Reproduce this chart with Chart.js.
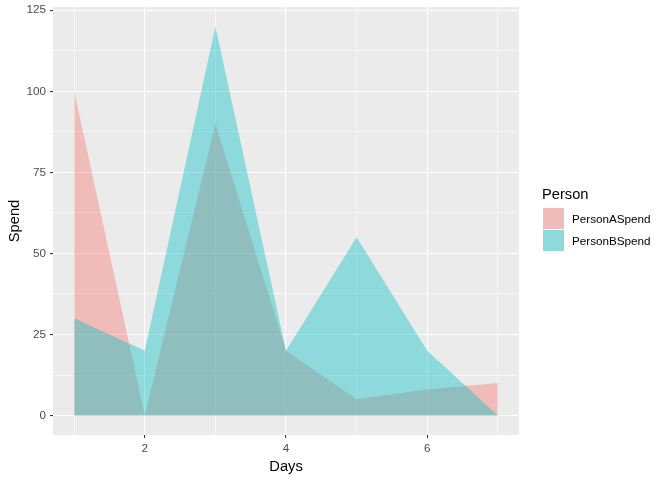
<!DOCTYPE html>
<html>
<head>
<meta charset="utf-8">
<script src="https://cdn.jsdelivr.net/npm/chart.js@4"></script>
<style>
  body { margin: 0; background: #fff; }
  #wrap { position: relative; width: 672px; height: 480px; }
  #legend { position: absolute; left: 542px; top: 186px; font-family: "Liberation Sans", Arial, sans-serif; }
  #legend .title { font-size: 14.7px; color: #000; margin-bottom: 5px; }
  #legend .row { display: flex; align-items: center; height: 22.5px; }
  #legend .key { width: 21px; height: 21px; border: 1px solid #fff; background: #ebebeb; position: relative; }
  #legend .key span { position: absolute; inset: 0; }
  #legend .lbl { font-size: 11.7px; color: #000; margin-left: 7px; }
</style>
</head>
<body>
<div id="wrap">
  <canvas id="spendChart" width="672" height="480"></canvas>
  <div id="legend">
    <div class="title">Person</div>
    <div class="row"><div class="key"><span style="background: rgba(248,118,109,0.4)"></span></div><div class="lbl">PersonASpend</div></div>
    <div class="row"><div class="key"><span style="background: rgba(0,191,196,0.4)"></span></div><div class="lbl">PersonBSpend</div></div>
  </div>
</div>
<script>
// valores
const days = [1, 2, 3, 4, 5, 6, 7];
const personASpend = [100, 0, 90, 20, 5, 8, 10];
const personBSpend = [30, 20, 120, 20, 55, 20, 0];
const xTicks = [1, 2, 3, 4, 5, 6, 7];
const xLabelled = [2, 4, 6];
const yTicks = [0, 12.5, 25, 37.5, 50, 62.5, 75, 87.5, 100, 112.5, 125];
const yLabelled = [0, 25, 50, 75, 100, 125];

const font = "'Liberation Sans', Arial, sans-serif";

const panelBg = {
    id: 'panelBg',
    beforeDraw(chart) {
        const { ctx, chartArea: a } = chart;
        ctx.save();
        ctx.fillStyle = '#EBEBEB';
        ctx.fillRect(a.left, a.top, a.right - a.left, a.bottom - a.top);
        ctx.restore();
    }
};

function toPoints(vals) {
    return days.map((d, i) => ({ x: d, y: vals[i] }));
}

const ctx = document.getElementById('spendChart').getContext('2d');

const spendChart = new Chart(ctx, {
    type: 'line',
    data: {
        datasets: [
            {
                label: 'PersonASpend',
                data: toPoints(personASpend),
                backgroundColor: 'rgba(248,118,109,0.4)',
                borderWidth: 0,
                pointRadius: 0,
                fill: 'origin',
                order: 2
            },
            {
                label: 'PersonBSpend',
                data: toPoints(personBSpend),
                backgroundColor: 'rgba(0,191,196,0.4)',
                borderWidth: 0,
                pointRadius: 0,
                fill: 'origin',
                order: 1
            }
        ]
    },
    options: {
        responsive: false,
        animation: false,
        layout: { padding: { top: 7, right: 153, left: 0, bottom: 0 } },
        plugins: {
            legend: { display: false },
            tooltip: { enabled: false }
        },
        scales: {
            x: {
                type: 'linear',
                min: 0.7,
                max: 7.3,
                afterBuildTicks: s => { s.ticks = xTicks.map(v => ({ value: v })); },
                afterFit: s => { s.height = 45; s.paddingLeft = 0; s.paddingRight = 0; },
                border: { display: false },
                grid: {
                    color: '#FFFFFF',
                    lineWidth: c => xLabelled.includes(c.tick.value) ? 1.1 : 0.55,
                    tickColor: c => xLabelled.includes(c.tick.value) ? '#333333' : 'rgba(0,0,0,0)',
                    tickLength: 3,
                    tickWidth: 1.1
                },
                ticks: {
                    autoSkip: false,
                    maxRotation: 0,
                    padding: 4,
                    color: '#4D4D4D',
                    font: { family: font, size: 11.7 },
                    callback: v => xLabelled.includes(v) ? String(v) : ''
                },
                title: {
                    display: true,
                    text: 'Days',
                    color: '#000',
                    font: { family: font, size: 14.7 },
                    padding: { top: 0, bottom: 4 }
                }
            },
            y: {
                type: 'linear',
                min: -6,
                max: 126,
                afterBuildTicks: s => { s.ticks = yTicks.map(v => ({ value: v })); },
                afterFit: s => { s.width = 53; s.paddingTop = 0; s.paddingBottom = 0; },
                border: { display: false },
                grid: {
                    color: '#FFFFFF',
                    lineWidth: c => yLabelled.includes(c.tick.value) ? 1.1 : 0.55,
                    tickColor: c => yLabelled.includes(c.tick.value) ? '#333333' : 'rgba(0,0,0,0)',
                    tickLength: 3,
                    tickWidth: 1.1
                },
                ticks: {
                    autoSkip: false,
                    padding: 4,
                    color: '#4D4D4D',
                    font: { family: font, size: 11.7 },
                    callback: v => yLabelled.includes(v) ? String(v) : ''
                },
                title: {
                    display: true,
                    text: 'Spend',
                    color: '#000',
                    font: { family: font, size: 14.7 },
                    padding: { top: 6, bottom: 0 }
                }
            }
        }
    },
    plugins: [panelBg]
});
</script>
</body>
</html>
